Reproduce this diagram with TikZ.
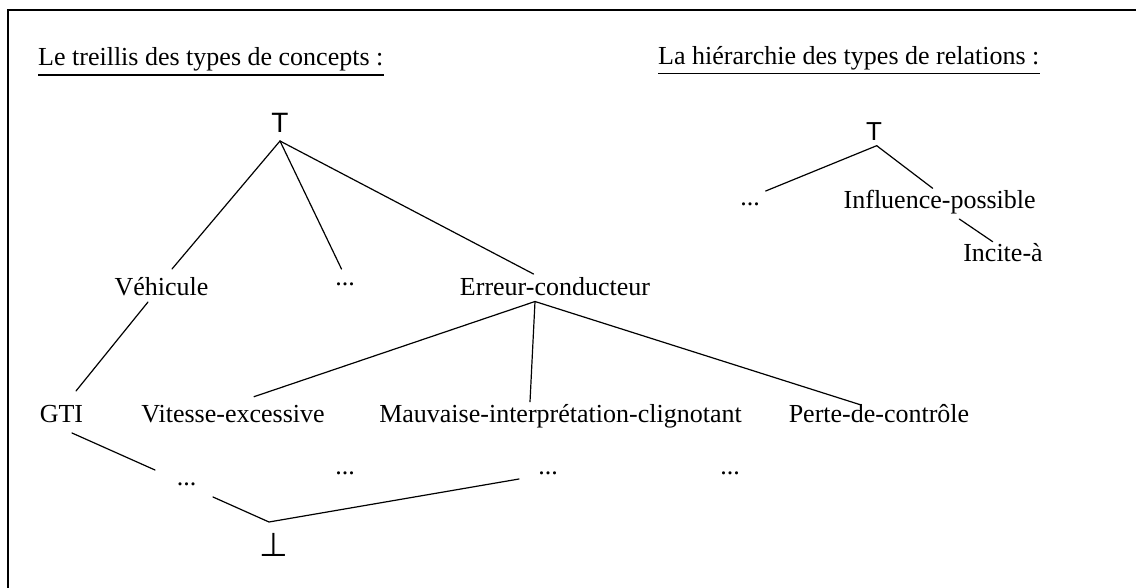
\documentclass[tikz,border=0pt]{standalone}
\usepackage{fontspec}
\setmainfont{Liberation Serif}
\newfontfamily\symsans{Liberation Sans}
\newfontfamily\symdv{DejaVu Sans}
\usetikzlibrary{calc}
\begin{document}
\begin{tikzpicture}[x=1pt,y=-1pt,
  lbl/.style={inner sep=0pt, anchor=base, font=\fontsize{26}{30}\selectfont},
  ttl/.style={inner sep=0pt, anchor=base west, font=\fontsize{26}{30}\selectfont},
  topsym/.style={inner sep=0pt, anchor=base, font=\symsans\fontsize{28}{30}\selectfont},
  botsym/.style={inner sep=0pt, anchor=base, font=\symdv\fontsize{33}{36}\selectfont},
  edge/.style={line width=1.2pt, line cap=round},
  frameline/.style={line width=1.5pt}]
\useasboundingbox (0,0) rectangle (1136,588);
\draw[frameline] (8,600) -- (8,10) -- (1150,10);

% titles
\node[ttl] (t1) at (38,66) {Le treillis des types de concepts :};
\draw[edge, line cap=butt] ([yshift=-9pt]t1.base west) -- ([yshift=-9pt]t1.base east);
\node[ttl] (t2) at (658,65) {La hiérarchie des types de relations :};
\draw[edge, line cap=butt] ([yshift=-8.3pt]t2.base west) -- ([yshift=-8.3pt]t2.base east);

% concept lattice
\node[topsym] (Tl) at (280,133) {T};
\node[lbl] (veh) at (161.5,295) {Véhicule};
\node[lbl] (d1) at (345,285.5) {...};
\node[lbl] (err) at (555,295) {Erreur-conducteur};
\node[lbl] (gti) at (61.5,422) {GTI};
\node[lbl] (vit) at (233,422) {Vitesse-excessive};
\node[lbl] (mauv) at (560.5,422) {Mauvaise-interprétation-clignotant};
\node[lbl] (perte) at (879,422) {Perte-de-contrôle};
\node[lbl] (d2) at (186.7,485.5) {...};
\node[lbl] (d3) at (345,474.5) {...};
\node[lbl] (d4) at (548,474.5) {...};
\node[lbl] (d5) at (730,474.5) {...};
\node[botsym] (bot) at (274,556) {⊥};

\draw[edge] ($(Tl.base)+(0,8)$) -- ($(veh.base)+(10.5,-26)$);
\draw[edge] ($(Tl.base)+(0,8)$) -- ($(d1.base)+(-3.5,-16.5)$);
\draw[edge] ($(Tl.base)+(0,8)$) -- ($(err.base)+(-21.5,-21)$);
\draw[edge] ($(veh.base)+(-13.5,7)$) -- ($(gti.base)+(14.5,-31)$);
\draw[edge] ($(err.base)+(-20,6.5)$) -- ($(vit.base)+(21,-25.3)$);
\draw[edge] ($(err.base)+(-20,6.5)$) -- ($(mauv.base)+(-30.5,-20.3)$);
\draw[edge] ($(err.base)+(-20,6.5)$) -- ($(perte.base)+(-18.5,-17.2)$);
\draw[edge] ($(gti.base)+(10.5,11)$) -- ($(d2.base)+(-31.7,-15.5)$);
\draw[edge] ($(d2.base)+(26.3,11.5)$) -- ($(bot.base)+(-5,-34)$) -- ($(d4.base)+(-29,4.5)$);

% relation hierarchy
\node[topsym, font=\symsans\fontsize{26}{28}\selectfont] (Tr) at (874,141) {T};
\node[lbl] (dR) at (750,205.5) {...};
\node[lbl] (infl) at (939.7,208.3) {Influence-possible};
\node[lbl] (inc) at (1003,261.7) {Incite-à};

\draw[edge] ($(Tr.base)+(2.7,4.7)$) -- ($(dR.base)+(15.7,-14.5)$);
\draw[edge] ($(Tr.base)+(2.7,4.7)$) -- ($(infl.base)+(-7,-20)$);
\draw[edge] ($(infl.base)+(19.6,10.7)$) -- ($(inc.base)+(-10.3,-20)$);
\end{tikzpicture}
\end{document}
